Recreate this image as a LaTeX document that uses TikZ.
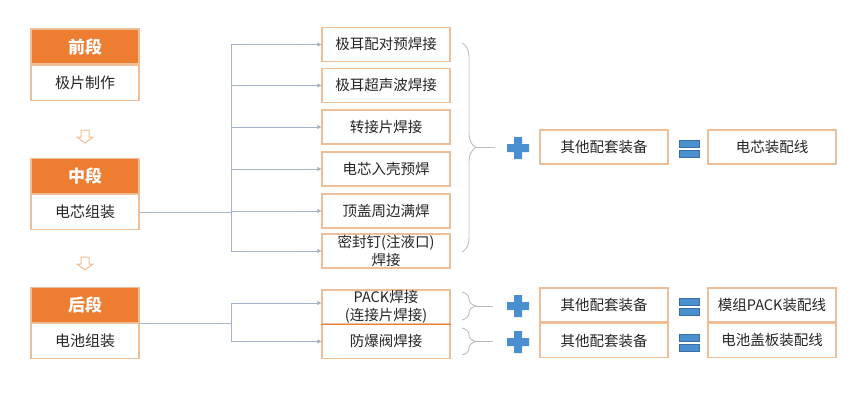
\documentclass[tikz,border=0pt]{standalone}
\usepackage{fontspec}
\setmainfont{Noto Sans CJK SC}
\usetikzlibrary{positioning,arrows.meta,decorations.pathreplacing}

\definecolor{hdorange}{HTML}{ED7D31}
\definecolor{boxedge}{HTML}{EDBE98}
\definecolor{linegray}{HTML}{A3B4C8}
\definecolor{plusblue}{HTML}{4A8FD0}
\definecolor{eqedge}{HTML}{3A6FA6}
\definecolor{bracegray}{HTML}{BDBDBD}
\definecolor{txtgray}{HTML}{262626}

\tikzset{
	hdbox/.style={fill=hdorange,draw=boxedge,line width=1.2pt,minimum width=108pt,minimum height=35pt,
		text=white,font=\fontsize{17}{20}\selectfont\bfseries,inner sep=0pt},
	bdbox/.style={draw=boxedge,fill=white,line width=1.2pt,minimum width=108pt,minimum height=35pt,
		text=txtgray,font=\fontsize{15}{18}\selectfont,inner sep=0pt},
	weldbox/.style={bdbox,minimum width=128pt,minimum height=34pt,align=center,
		font=\fontsize{14.5}{18}\selectfont},
	conn/.style={draw=linegray,line width=0.8pt,-{Triangle[length=4pt,width=4pt]}},
	brc/.style={draw=bracegray,line width=0.9pt,decorate,decoration={brace,amplitude=14pt}},
	stub/.style={draw=bracegray,line width=0.9pt}
}

% plus and equal marks
\newcommand{\plusmark}[1]{%
	\fill[plusblue,shift={#1}] (-4,-11) -- (4,-11) -- (4,-4) -- (11,-4) -- (11,4) -- (4,4)
	-- (4,11) -- (-4,11) -- (-4,4) -- (-11,4) -- (-11,-4) -- (-4,-4) -- cycle;}
\newcommand{\eqmark}[1]{%
	\filldraw[fill=plusblue,draw=eqedge,line width=0.6pt,shift={#1}] (-10,-8) rectangle (10,-1);
	\filldraw[fill=plusblue,draw=eqedge,line width=0.6pt,shift={#1}] (-10,2) rectangle (10,9);}
\newcommand{\downmark}[1]{%
	\draw[draw=boxedge,line width=1pt,fill=white,shift={#1}] (-4,0) -- (4,0) -- (4,7) -- (8,7)
	-- (0,13) -- (-8,7) -- (-4,7) -- cycle;}

\begin{document}
\begin{tikzpicture}[x=1pt,y=-1pt]
	\useasboundingbox (0,0) rectangle (865,402);
	
	% stages on the left
	\node[hdbox] (qd) at (85,46.5) {前段};
	\node[bdbox,below=0pt of qd] (qdb) {极片制作};
	\node[hdbox] (zd) at (85,176) {中段};
	\node[bdbox,below=0pt of zd] (zdb) {电芯组装};
	\node[hdbox] (hd) at (85,305) {后段};
	\node[bdbox,below=0pt of hd] (hdb) {电池组装};
	
	\downmark{(85,130)}
	\downmark{(85,257)}
	
	% welding steps
	\foreach \y/\t/\n in {44.5/极耳配对预焊接/m1,85.5/极耳超声波焊接/m2,127/转接片焊接/m3,
		169/电芯入壳预焊/m4,211/顶盖周边满焊/m5,251/{密封钉(注液口)\\焊接}/m6}
	\node[weldbox] (\n) at (386,\y) {\t};
	
	\node[weldbox] (pk) at (386,307) {PACK焊接\\(连接片焊接)};
	\node[weldbox] (fb) at (386,341.5) {防爆阀焊接};
	\draw[hdorange,line width=1.2pt] (pk.south west) -- (pk.south east);
	
	% connectors
	\coordinate (bus1) at ([xshift=92pt]zdb.east);
	\draw[draw=linegray,line width=0.8pt] (zdb.east) -- (bus1);
	\foreach \n in {m1,m2,m3,m4,m5,m6}
	\draw[conn] (bus1) |- (\n.west);
	
	\coordinate (bus2) at ([xshift=92pt]hd.south east);
	\draw[draw=linegray,line width=0.8pt] (hd.south east) -- (bus2);
	\draw[conn] (bus2) |- ([yshift=4pt]pk.west);
	\draw[conn] (bus2) |- (fb.west);
	
	% braces
	\draw[brc] (462,43) -- (462,252);
	\draw[stub] (476,147.5) -- (495,147.5);
	\draw[brc] (462,292) -- (462,320);
	\draw[stub] (476,306) -- (493,306);
	\draw[brc] (462,328) -- (462,355);
	\draw[stub] (476,341.5) -- (493,341.5);
	
	% results
	\plusmark{(518,148)}
	\node[weldbox] (pt1) at (604,147) {其他配套装备};
	\eqmark{(689,148)}
	\node[weldbox] (ln1) at (772,147) {电芯装配线};
	
	\plusmark{(518,306)}
	\node[weldbox] (pt2) at (604,305) {其他配套装备};
	\eqmark{(689,306)}
	\node[weldbox] (ln2) at (772,305) {模组PACK装配线};
	
	\plusmark{(518,342)}
	\node[weldbox] (pt3) at (604,340.5) {其他配套装备};
	\eqmark{(689,342)}
	\node[weldbox] (ln3) at (772,340.5) {电池盖板装配线};
\end{tikzpicture}
\end{document}
